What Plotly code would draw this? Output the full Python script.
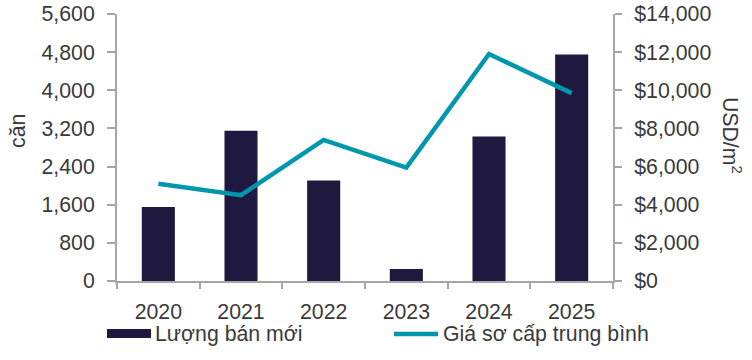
import plotly.graph_objects as go

years = ["2020", "2021", "2022", "2023", "2024", "2025"]
sales_units = [1550, 3150, 2110, 250, 3030, 4750]
avg_price = [5100, 4500, 7400, 5950, 11900, 9850]

left_ticks = [0, 800, 1600, 2400, 3200, 4000, 4800, 5600]
right_ticks = [0, 2000, 4000, 6000, 8000, 10000, 12000, 14000]
right_labels = ["$" + format(v, ",") for v in right_ticks]
left_labels = [format(v, ",") for v in left_ticks]

BAR = "#1F1940"
LINE = "#0097AE"
AX = "#A6A6A6"
TXT = "#3A3A3A"
FONT = "Liberation Sans, Arial, sans-serif"
FS = 21.3

fig = go.Figure()
fig.add_trace(go.Bar(x=years, y=sales_units, name="Lượng bán mới",
                     marker=dict(color=BAR, line=dict(width=0)), width=0.4))
fig.add_trace(go.Scatter(x=years, y=avg_price, name="Giá sơ cấp trung bình",
                         yaxis="y2", mode="lines",
                         line=dict(color=LINE, width=4.5)))

fig.update_layout(
    width=752, height=360,
    margin=dict(l=117, r=139, t=14, b=79),
    paper_bgcolor="white", plot_bgcolor="white",
    font=dict(family=FONT, size=FS, color=TXT),
    showlegend=False,
    xaxis=dict(type="category", showline=True, linecolor=AX, linewidth=2,
               ticks="outside", tickson="boundaries", ticklen=6, tickwidth=2, tickcolor=AX,
               showgrid=False, zeroline=False, automargin=False, ticklabelstandoff=10,
               tickfont=dict(size=FS, color=TXT)),
    yaxis=dict(range=[0, 5600], tickvals=left_ticks, ticktext=left_labels, showline=True,
               linecolor=AX, linewidth=2, ticks="outside", ticklen=8, tickwidth=2,
               tickcolor=AX, showgrid=False, zeroline=False, ticklabelstandoff=8,
               automargin=False, ticklabeloverflow="allow",
               tickfont=dict(size=FS, color=TXT)),
    yaxis2=dict(range=[0, 14000], tickvals=right_ticks, ticktext=right_labels,
                overlaying="y", side="right", showline=True, linecolor=AX, linewidth=2,
                ticks="outside", ticklen=7, tickwidth=2, tickcolor=AX, showgrid=False,
                zeroline=False, ticklabelstandoff=8, automargin=False,
                ticklabeloverflow="allow", tickfont=dict(size=FS, color=TXT)),
    bargap=0.6,
)

# axis titles
fig.add_annotation(text="căn", textangle=-90, xref="paper", yref="paper",
                   x=-0.1996, y=0.562, xanchor="center", yanchor="middle", showarrow=False,
                   font=dict(size=FS, color=TXT))
fig.add_annotation(text="USD/m<sup>2</sup>", textangle=90, xref="paper", yref="paper",
                   x=1.238, y=0.547, xanchor="center", yanchor="middle", showarrow=False,
                   font=dict(size=FS, color=TXT))

# legend (drawn manually to match swatch shapes)
fig.add_shape(type="rect", xref="paper", yref="paper", x0=-0.0202, x1=0.0685,
              y0=-0.2135, y1=-0.1798, fillcolor=BAR, line=dict(width=0))
fig.add_annotation(text="Lượng bán mới", xref="paper", yref="paper", x=0.0726, y=-0.2,
                   xanchor="left", yanchor="middle", showarrow=False,
                   font=dict(size=FS, color=TXT))
fig.add_shape(type="line", xref="paper", yref="paper", x0=0.5585, x1=0.6472,
              y0=-0.1985, y1=-0.1985, line=dict(color=LINE, width=4.5))
fig.add_annotation(text="Giá sơ cấp trung bình", xref="paper", yref="paper", x=0.6532,
                   y=-0.2, xanchor="left", yanchor="middle", showarrow=False,
                   font=dict(size=FS, color=TXT))

# remove the default 8px page margin so the figure fills the window exactly
fig.write_html("out.html", config={"displayModeBar": False},
               post_script="document.body.style.margin='0';")
